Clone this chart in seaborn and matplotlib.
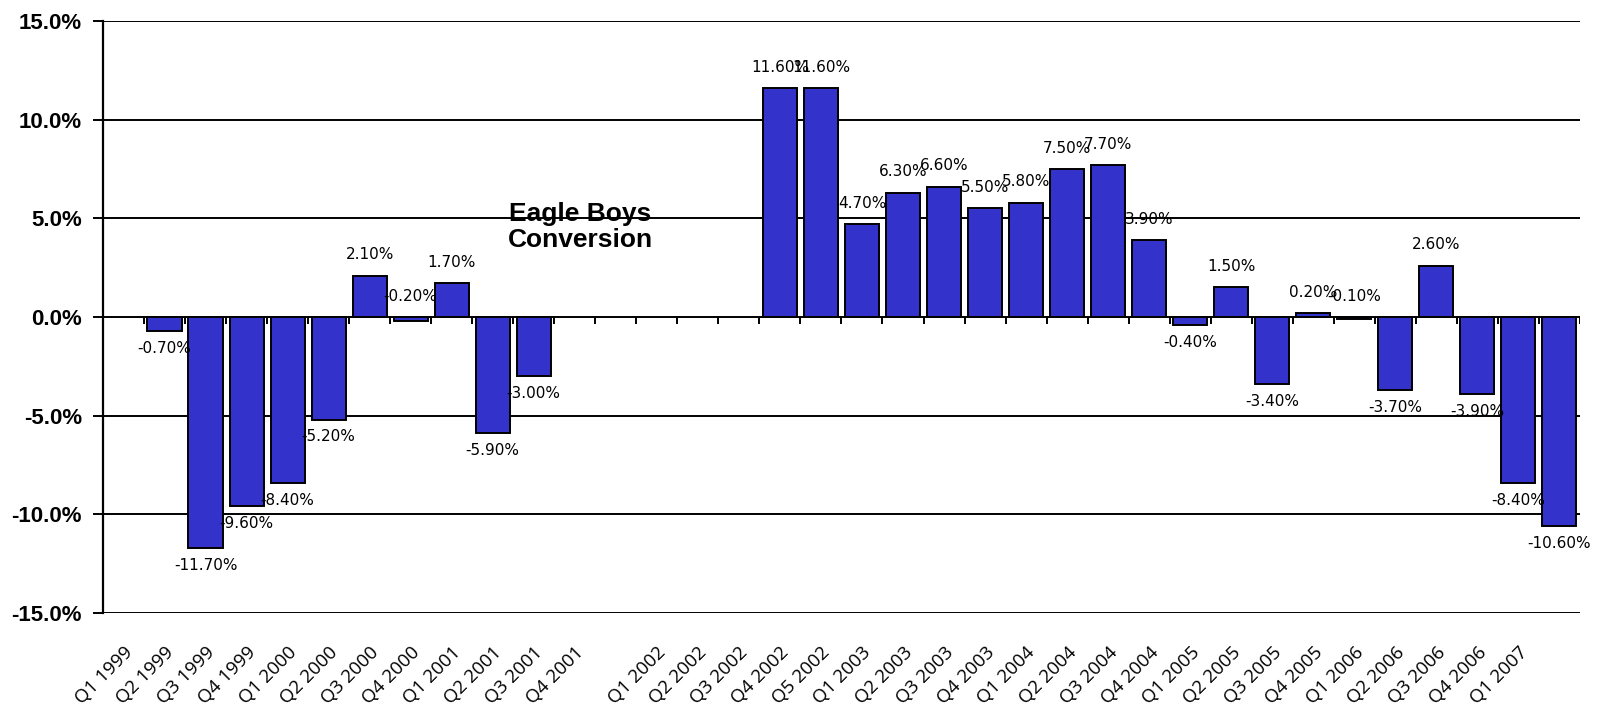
import numpy as np
import pandas as pd
import matplotlib
matplotlib.use("Agg")
import matplotlib.pyplot as plt
import seaborn as sns

# category slots as drawn in the sheet (labels sit one slot off the bars)
quarter_labels = [
    "Q1 1999", "Q2 1999", "Q3 1999", "Q4 1999",
    "Q1 2000", "Q2 2000", "Q3 2000", "Q4 2000",
    "Q1 2001", "Q2 2001", "Q3 2001", "Q4 2001",
    "",
    "Q1 2002", "Q2 2002", "Q3 2002", "Q4 2002", "Q5 2002",
    "Q1 2003", "Q2 2003", "Q3 2003", "Q4 2003",
    "Q1 2004", "Q2 2004", "Q3 2004", "Q4 2004",
    "Q1 2005", "Q2 2005", "Q3 2005", "Q4 2005",
    "Q1 2006", "Q2 2006", "Q3 2006", "Q4 2006",
    "Q1 2007", "",
]

conversion = [
    np.nan, -0.7, -11.7, -9.6, -8.4, -5.2, 2.1, -0.2, 1.7, -5.9, -3.0,
    np.nan, np.nan, np.nan, np.nan, np.nan,
    11.6, 11.6, 4.7, 6.3, 6.6, 5.5, 5.8, 7.5, 7.7, 3.9,
    -0.4, 1.5, -3.4, 0.2, -0.1, -3.7, 2.6, -3.9, -8.4, -10.6,
]

y_ticks = [-15, -10, -5, 0, 5, 10, 15]

df = pd.DataFrame({"slot": np.arange(len(quarter_labels)), "value": conversion})

sns.set_theme(style="white")
plt.rcParams["font.family"] = ["Liberation Sans", "DejaVu Sans"]
plt.rcParams["text.color"] = "black"
plt.rcParams["xtick.color"] = "black"
plt.rcParams["ytick.color"] = "black"

fig = plt.figure(figsize=(16.06, 7.11), dpi=100)
ax = fig.add_axes([0.0641, 0.1378, 0.9197, 0.8327])

sns.barplot(data=df, x="slot", y="value", order=list(range(len(quarter_labels))),
            color="#3333CC", saturation=1, width=0.83, edgecolor="black",
            linewidth=1.4, errorbar=None, ax=ax)

ax.set_ylim(-15, 15)
ax.set_xlim(-0.5, len(quarter_labels) - 0.5)
ax.set_yticks(y_ticks)
ax.set_yticklabels([f"{t:.1f}%" for t in y_ticks], fontsize=16, fontweight="bold")
for t in y_ticks:
    ax.axhline(t, color="black", lw=1.4, zorder=0.5)

ax.set_xticks(range(len(quarter_labels)))
ax.set_xticklabels(quarter_labels, rotation=45, ha="right", rotation_mode="anchor",
                   fontsize=13.5, family="Open Sans", color="black")
ax.tick_params(axis="x", length=0, pad=22)
ax.tick_params(axis="y", length=7, width=1.4, color="black", left=True, pad=8)

# small tick marks hanging from the zero line at slot boundaries
bounds = np.arange(len(quarter_labels)) + 0.5
ax.vlines(bounds, -0.35, 0, color="black", lw=1.4, zorder=3)

for sp in ["top", "right", "bottom"]:
    ax.spines[sp].set_visible(False)
ax.spines["left"].set_color("black")
ax.spines["left"].set_linewidth(1.6)
ax.set_xlabel("")
ax.set_ylabel("")

for i, v in enumerate(conversion):
    if np.isnan(v):
        continue
    if v >= -0.25:
        ax.annotate(f"{v:.2f}%", (i, max(v, 0)), xytext=(0, 15), textcoords="offset points",
                    ha="center", va="center", fontsize=11, family="DejaVu Sans", color="black")
    else:
        ax.annotate(f"{v:.2f}%", (i, v), xytext=(0, -12.5), textcoords="offset points",
                    ha="center", va="center", fontsize=11, family="DejaVu Sans", color="black")

ax.text(0.323, 0.652, "Eagle Boys\nConversion", transform=ax.transAxes,
        ha="center", va="center", multialignment="center", fontsize=19,
        fontweight="bold", linespacing=1.15)

fig.savefig("out.png", dpi=100)
